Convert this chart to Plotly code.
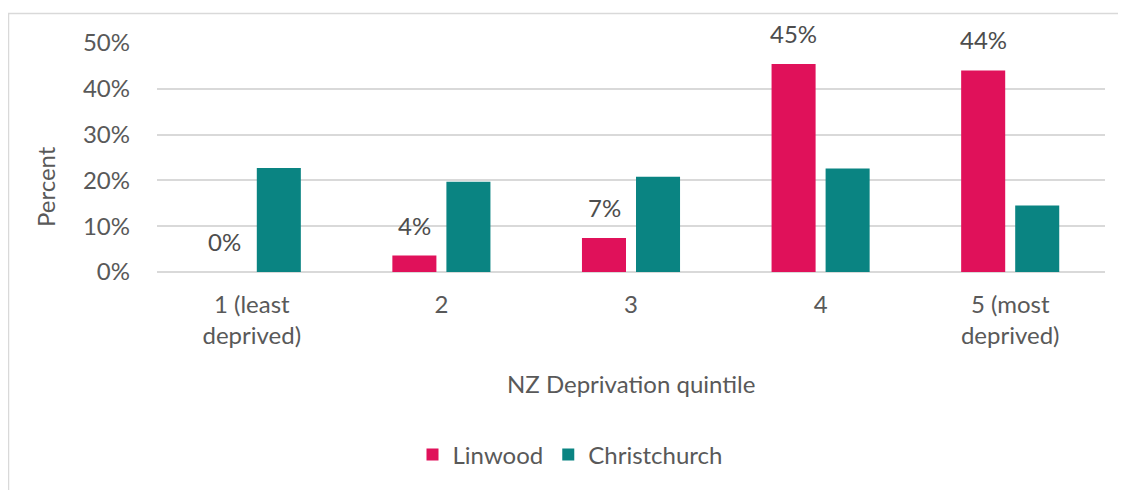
import plotly.graph_objects as go

categories = ["1 (least<br>deprived)", "2", "3", "4", "5 (most<br>deprived)"]
linwood = [0.0, 3.6, 7.4, 45.4, 44.0]
christchurch = [22.7, 19.7, 20.8, 22.6, 14.5]
linwood_labels = ["0%", "4%", "7%", "45%", "44%"]
y_ticks = [0, 10, 20, 30, 40, 50]
y_tick_labels = ["0%", "10%", "20%", "30%", "40%", "50%"]

FONT = "Lato"
FS = 24
GREY = "#595959"
RED = "#E0115A"
TEAL = "#0A8482"

# page has an 8px body margin; work in figure pixels
OFF = 8
W, H = 1126 - OFF, 490 - OFF
L, R, T, B = 157 - OFF, 21, 43 - OFF, 218
pw, ph = W - L - R, H - T - B


def px_x(p):  # p in page pixels
    return (p - OFF - L) / pw


def px_y(p):
    return (H - B - (p - OFF)) / ph


idx = list(range(len(categories)))

fig = go.Figure()
fig.add_trace(go.Bar(name="Linwood", x=idx, y=linwood, marker_color=RED,
                     marker_line_width=0))
fig.add_trace(go.Bar(name="Christchurch", x=idx, y=christchurch, marker_color=TEAL,
                     marker_line_width=0))

for i, v, t in zip(idx, linwood, linwood_labels):
    fig.add_annotation(x=i, y=v, text=t, showarrow=False, xref="x", yref="y",
                       yanchor="bottom", yshift=14, xshift=-27,
                       font=dict(family=FONT, size=FS, color="#4d4d4d"))

fig.add_annotation(text="Percent", textangle=-90, showarrow=False,
                   xref="paper", yref="paper", x=px_x(45), y=px_y(187),
                   xanchor="center", yanchor="middle",
                   font=dict(family=FONT, size=FS, color=GREY))
fig.add_annotation(text="NZ Deprivation quintile", showarrow=False,
                   xref="paper", yref="paper", x=px_x(631), y=px_y(383),
                   xanchor="center", yanchor="middle",
                   font=dict(family=FONT, size=FS, color=GREY))

fig.add_shape(type="rect", xref="paper", yref="paper",
              x0=px_x(8.5), x1=px_x(1300), y0=px_y(700), y1=px_y(13.5),
              line=dict(color="#d9d9d9", width=1.5), fillcolor="rgba(0,0,0,0)", layer="below")

fig.update_layout(
    width=W, height=H,
    margin=dict(l=L, r=R, t=T, b=B),
    barmode="group", bargap=0.43, bargroupgap=0.185,
    plot_bgcolor="white", paper_bgcolor="white",
    font=dict(family=FONT, size=FS, color=GREY),
    showlegend=True,
    legend=dict(orientation="h", x=px_x(570), xanchor="center", y=px_y(455), yanchor="middle",
                font=dict(family=FONT, size=FS, color=GREY), traceorder="normal"),
    xaxis=dict(tickvals=idx, ticktext=categories, range=[-0.5, len(idx) - 0.5],
               showgrid=False, showline=False, ticks="", ticklabelstandoff=16,
               tickfont=dict(size=FS, color=GREY)),
    yaxis=dict(range=[0, 50], tickvals=y_ticks, ticktext=y_tick_labels,
               showgrid=True, gridcolor="#d9d9d9", gridwidth=1.5,
               zeroline=True, zerolinecolor="#d9d9d9", zerolinewidth=1.5,
               ticks="", ticklabelstandoff=26, tickfont=dict(size=FS, color=GREY)),
)

fig.write_html("out.html")
